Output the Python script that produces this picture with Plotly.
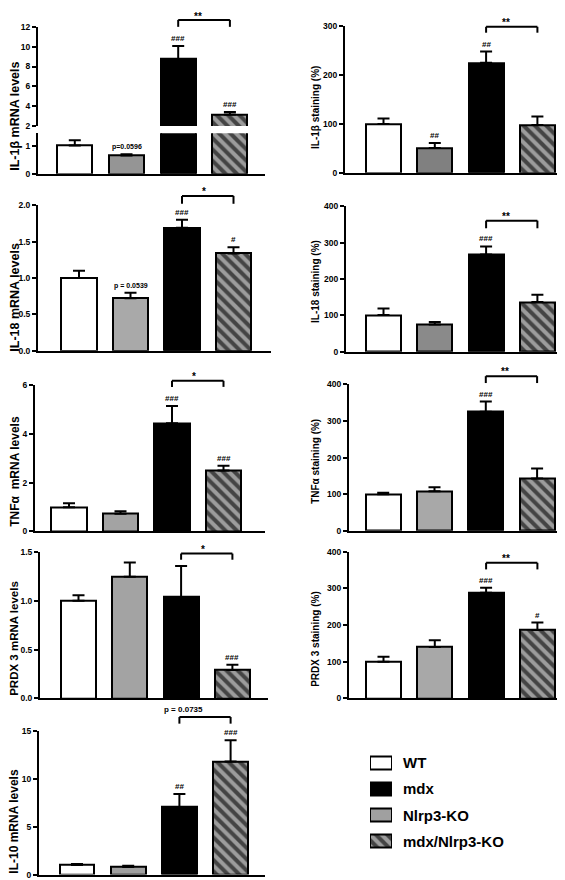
import plotly.graph_objects as go

W, H = 565, 880
FONT = "Liberation Sans"

groups = ["WT", "Nlrp3-KO", "mdx", "mdx/Nlrp3-KO"]
legend_labels = ["WT", "mdx", "Nlrp3-KO", "mdx/Nlrp3-KO"]

# ---- data (mean, SEM) ----
il1b_mrna = [1.01, 0.65, 8.73, 3.15]
il1b_mrna_err = [0.18, 0.05, 1.34, 0.25]
il1b_mrna_sig = ["", "p=0.0596", "###", "###"]

il1b_stain = [100, 51, 225, 98]
il1b_stain_err = [11, 10, 23, 17]
il1b_stain_sig = ["", "##", "##", ""]

il18_mrna = [1.0, 0.72, 1.69, 1.335]
il18_mrna_err = [0.1, 0.076, 0.11, 0.085]
il18_mrna_sig = ["", "p = 0.0539", "###", "#"]

il18_stain = [101, 75, 268, 137]
il18_stain_err = [18, 7, 22, 20]
il18_stain_sig = ["", "", "###", ""]

tnfa_mrna = [0.99, 0.72, 4.44, 2.5]
tnfa_mrna_err = [0.17, 0.11, 0.71, 0.2]
tnfa_mrna_sig = ["", "", "###", "###"]

tnfa_stain = [100, 108, 325, 143]
tnfa_stain_err = [4, 11, 28, 27]
tnfa_stain_sig = ["", "", "###", ""]

prdx3_mrna = [1.0, 1.245, 1.035, 0.29]
prdx3_mrna_err = [0.055, 0.145, 0.32, 0.055]
prdx3_mrna_sig = ["", "", "", "###"]

prdx3_stain = [100, 140, 288, 187]
prdx3_stain_err = [14, 19, 14, 20]
prdx3_stain_sig = ["", "", "###", "#"]

il10_mrna = [1.0, 0.8, 7.03, 11.8]
il10_mrna_err = [0.1, 0.12, 1.37, 2.2]
il10_mrna_sig = ["", "", "##", "###"]

bracket_labels = ["**", "**", "*", "**", "*", "**", "*", "**", "p = 0.0735"]

# tick labels
ticks_il1b_mrna_low = [0, 1]
ticks_il1b_mrna_up = [2, 4, 6, 8, 10, 12]
ticks_stain300 = [0, 100, 200, 300]
ticks_stain400 = [0, 100, 200, 300, 400]
ticks_il18_mrna = [0.0, 0.5, 1.0, 1.5, 2.0]
ticks_tnfa_mrna = [0, 2, 4, 6]
ticks_prdx3_mrna = [0.0, 0.5, 1.0, 1.5]
ticks_il10_mrna = [0, 5, 10, 15]

# ---- style / geometry ----
BW = 0.68
HATCH_BG = "#9c9c9c"
HATCH = dict(shape=["", "", "", "\\"], fgcolor="black", fgopacity=1,
             fillmode="overlay", size=8, solidity=0.5)


def px2x(p):
    return p / W


def px2y(p):
    return 1 - p / H


fig = go.Figure()
layout = {}
annotations = []
shapes = []


def add_axes(n, xL, xR, yT, yB, xr, yr, ticks, fmt, show_x=True, tfs=8.5):
    layout[f"xaxis{n}"] = dict(domain=[px2x(xL), px2x(xR)], range=xr, showline=show_x,
                               visible=show_x, linecolor="black", linewidth=2,
                               showticklabels=False, ticks="", showgrid=False,
                               zeroline=False, anchor=f"y{n}", fixedrange=True)
    layout[f"yaxis{n}"] = dict(domain=[px2y(yB), px2y(yT)], range=yr, showline=True,
                               linecolor="black", linewidth=2, ticks="outside", ticklen=4,
                               tickwidth=2, tickcolor="black", tickvals=ticks,
                               ticktext=[fmt.format(t) for t in ticks],
                               tickfont=dict(family=FONT, size=tfs, color="black", weight="bold"),
                               showgrid=False, zeroline=False, anchor=f"x{n}", fixedrange=True)


def add_bars(n, vals, errs, gray):
    fig.add_trace(go.Bar(
        x=list(range(len(groups))), y=vals, width=BW, xaxis=f"x{n}", yaxis=f"y{n}",
        marker=dict(color=["white", gray, "black", HATCH_BG],
                    line=dict(color="black", width=2), pattern=HATCH),
        error_y=dict(type="data", array=errs, arrayminus=[0] * len(vals), symmetric=False,
                     color="black", thickness=2, width=6),
        showlegend=False, hoverinfo="skip"))


def add_sig(n, i, v, e, text):
    if not text:
        return
    size = 7 if text.startswith("p") else 8
    annotations.append(dict(x=i, y=v + e, xref=f"x{n}", yref=f"y{n}", text=text,
                            showarrow=False, yanchor="bottom", yshift=1,
                            font=dict(family=FONT, size=size, color="black", weight="bold")))


def add_bracket(n, xr, yr, level, tip, label, shift=-3):
    def fx(i):
        return (i - xr[0]) / (xr[1] - xr[0])

    def fy(v):
        return (v - yr[0]) / (yr[1] - yr[0])

    xa, xb = fx(2), fx(3)
    ln = dict(color="black", width=2)
    xref, yref = f"x{n} domain", f"y{n} domain"
    shapes.append(dict(type="line", xref=xref, yref=yref, x0=xa, x1=xb, y0=fy(level), y1=fy(level), line=ln))
    shapes.append(dict(type="line", xref=xref, yref=yref, x0=xa, x1=xa, y0=fy(level), y1=fy(tip), line=ln))
    shapes.append(dict(type="line", xref=xref, yref=yref, x0=xb, x1=xb, y0=fy(level), y1=fy(tip), line=ln))
    is_p = label.startswith("p")
    annotations.append(dict(x=(xa + xb) / 2, y=fy(level), xref=xref, yref=yref, text=label,
                            showarrow=False, yanchor="bottom", yshift=1 if is_p else shift,
                            font=dict(family=FONT, size=8 if is_p else 10, color="black",
                                      weight="bold")))


def add_title(text, cx, cy, size):
    annotations.append(dict(x=px2x(cx), y=px2y(cy), xref="paper", yref="paper", text=text,
                            textangle=-90, showarrow=False, xanchor="center", yanchor="middle",
                            font=dict(family=FONT, size=size, color="black", weight="bold")))


def xrange_for(xL, xR, c0, s):
    return [(xL - c0) / s, (xR - c0) / s]


# ---- Panel 1: IL-1b mRNA (broken axis) ----
xr1 = xrange_for(30, 257, 66.8, 51.7)
add_axes(1, 30, 257, 121.7, 162.7, xr1, [0, 1.44], ticks_il1b_mrna_low, "{:d}")
add_axes(2, 30, 257, 14, 114.3, xr1, [2, 12], ticks_il1b_mrna_up, "{:d}", show_x=False)
add_bars(1, il1b_mrna, il1b_mrna_err, "#959595")
add_bars(2, il1b_mrna, il1b_mrna_err, "#959595")
for i in range(4):
    n = 1 if il1b_mrna[i] + il1b_mrna_err[i] < 1.44 else 2
    add_sig(n, i, il1b_mrna[i], il1b_mrna_err[i], il1b_mrna_sig[i])
add_bracket(2, xr1, [2, 12], 12.7, 12.0, bracket_labels[0], shift=-4)
add_title("IL-1β mRNA levels", 7, 105, 12.5)

# ---- other panels ----
panels = [
    dict(n=3, vals=il1b_stain, errs=il1b_stain_err, sig=il1b_stain_sig, gray="#808080",
         geo=(337, 562, 13.3, 161.7, 375.5, 51.3), yr=[0, 300], ticks=ticks_stain300, fmt="{:d}",
         brk=(298.7, 286.6), label=bracket_labels[1], title="IL-1β staining (%)", tpos=(308, 96), ts=10),
    dict(n=4, vals=il18_mrna, errs=il18_mrna_err, sig=il18_mrna_sig, gray="#a9a9a9",
         geo=(30, 263, 194.3, 341.7, 71, 51.5), yr=[0, 2], ticks=ticks_il18_mrna, fmt="{:.1f}",
         brk=(2.126, 2.018), label=bracket_labels[2], title="IL-18 mRNA levels", tpos=(7, 288), ts=12.5),
    dict(n=5, vals=il18_stain, errs=il18_stain_err, sig=il18_stain_sig, gray="#8a8a8a",
         geo=(338, 562, 195.7, 342.7, 375.5, 51.3), yr=[0, 400], ticks=ticks_stain400, fmt="{:d}",
         brk=(361, 340), label=bracket_labels[3], title="IL-18 staining (%)", tpos=(308, 272), ts=10),
    dict(n=6, vals=tnfa_mrna, errs=tnfa_mrna_err, sig=tnfa_mrna_sig, gray="#a3a3a3",
         geo=(27, 257, 376.7, 524.3, 61, 51.5), yr=[0, 6], ticks=ticks_tnfa_mrna, fmt="{:d}",
         brk=(6.19, 5.94), label=bracket_labels[4], title="TNFα  mRNA levels", tpos=(7, 464), ts=12),
    dict(n=7, vals=tnfa_stain, errs=tnfa_stain_err, sig=tnfa_stain_sig, gray="#a8a8a8",
         geo=(341, 562, 375.7, 523.7, 375.2, 51.3), yr=[0, 400], ticks=ticks_stain400, fmt="{:d}",
         brk=(422.6, 403.8), label=bracket_labels[5], title="TNFα staining (%)", tpos=(308, 454), ts=10),
    dict(n=8, vals=prdx3_mrna, errs=prdx3_mrna_err, sig=prdx3_mrna_sig, gray="#a3a3a3",
         geo=(32, 260, 545, 693.3, 70.5, 51.3), yr=[0, 1.5], ticks=ticks_prdx3_mrna, fmt="{:.1f}",
         brk=(1.482, 1.419), label=bracket_labels[6], title="PRDX 3 mRNA levels", tpos=(6, 633), ts=11.5),
    dict(n=9, vals=prdx3_stain, errs=prdx3_stain_err, sig=prdx3_stain_sig, gray="#a8a8a8",
         geo=(341, 562, 545, 693.3, 375.5, 51.3), yr=[0, 400], ticks=ticks_stain400, fmt="{:d}",
         brk=(370, 352), label=bracket_labels[7], title="PRDX 3 staining (%)", tpos=(308, 633), ts=10),
    dict(n=10, vals=il10_mrna, errs=il10_mrna_err, sig=il10_mrna_sig, gray="#a0a0a0",
         geo=(31, 257, 726, 871.5, 69, 51.2), yr=[0, 15], ticks=ticks_il10_mrna, fmt="{:d}",
         brk=(16.43, 15.74), label=bracket_labels[8], title="IL-10 mRNA levels", tpos=(6, 818), ts=12),
]

for p in panels:
    xL, xR, yT, yB, c0, s = p["geo"]
    xr = xrange_for(xL, xR, c0, s)
    add_axes(p["n"], xL, xR, yT, yB, xr, p["yr"], p["ticks"], p["fmt"])
    add_bars(p["n"], p["vals"], p["errs"], p["gray"])
    for i in range(4):
        add_sig(p["n"], i, p["vals"][i], p["errs"][i], p["sig"][i])
    add_bracket(p["n"], xr, p["yr"], p["brk"][0], p["brk"][1], p["label"])
    add_title(p["title"], p["tpos"][0], p["tpos"][1], p["ts"])

# ---- legend (swatches as a small bar subplot) ----
layout["xaxis11"] = dict(domain=[px2x(362), px2x(384)], range=[0, 1], visible=False,
                         anchor="y11", fixedrange=True)
layout["yaxis11"] = dict(domain=[px2y(851), px2y(745)], range=[3.5, -0.5], visible=False,
                         anchor="x11", fixedrange=True)
fig.add_trace(go.Bar(
    y=list(range(len(legend_labels))), x=[1] * len(legend_labels), orientation="h", width=0.49,
    xaxis="x11", yaxis="y11",
    marker=dict(color=["white", "black", "#a0a0a0", HATCH_BG], line=dict(color="black", width=2),
                pattern=HATCH),
    showlegend=False, hoverinfo="skip"))
for i, lab in enumerate(legend_labels):
    annotations.append(dict(x=px2x(393), y=i, xref="paper", yref="y11", text=lab, showarrow=False,
                            xanchor="left", yanchor="middle",
                            font=dict(family=FONT, size=15, color="black", weight="bold")))

fig.update_layout(width=W, height=H, margin=dict(l=0, r=0, t=0, b=0),
                  paper_bgcolor="white", plot_bgcolor="white", bargap=0,
                  annotations=annotations, shapes=shapes, showlegend=False, **layout)

fig.write_html("out.html")
